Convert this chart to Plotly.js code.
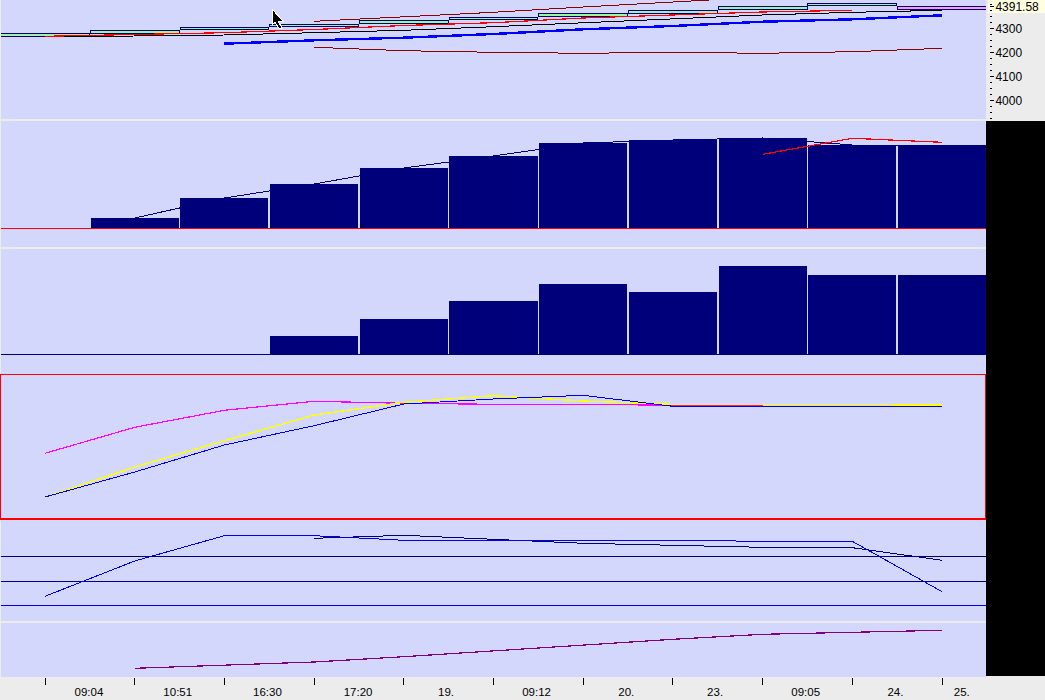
<!DOCTYPE html>
<html>
<head>
<meta charset="utf-8">
<script src="https://cdn.plot.ly/plotly-3.0.1.min.js"></script>
<style>
html,body{margin:0;padding:0;background:#ececec;overflow:hidden}
#chart{width:1045px;height:700px}
#chart path,#chart rect{shape-rendering:crispEdges}
</style>
</head>
<body>
<div id="chart"></div>
<script>
// Bar index
const bars = [0,1,2,3,4,5,6,7,8,9,10];

// Panel 1: price candles and overlays
const candleLow  = [4266,4277.5,4294,4306.5,4319,4335.5,4350,4364,4377.5,4394,4377.5];
const candleHigh = [4278,4293.5,4306,4318.5,4335,4347.5,4364.5,4377,4393.5,4406,4391.6];
const candleFill = ['#a6f0b0','#98fb98','#98fb98','#a0f0b8','#98fb98','#98fb98','#98fb98','#a0f0b8','#98fb98','#98fb98','#ff99ff'];
const priceRed   = [4267.5,4275.8,4282.5,4295.8,4312.5,4324.2,4343.8,4356.3,4368.8,4375.8,null];
const priceBlack = [4264.6,4268.8,4272.9,4282.5,4292.5,4307.5,4324.2,4339.6,4356.3,4367.5,4375.8];
const priceBlue  = [null,null,4236.7,4250.8,4261.7,4277.1,4296.7,4310.4,4328.3,4338.3,4355.0];
const upperBand  = [null,null,null,4330.0,4347.9,4367.5,4389.6,4411.7,4431.3,null,null];
const lowerBand  = [null,null,null,4221.7,4207.5,4200.8,4196.7,4200.8,4196.7,4203.3,4217.5];
const priceTicks = [4000,4100,4200,4300,4391.58];
const priceTickText = ['4000','4100','4200','4300','4391.58'];

// Panel 2
const volumeA     = [null,10.5,30.5,44.5,60.5,72.5,85.5,88.5,90.5,83.5,83.5];
const volumeALine = [null,10.5,30.5,44.5,60.5,72.5,85.5,88.5,90.5,83.5,83.5];
const volumeARed  = [null,null,null,null,null,null,null,null,74.2,90.2,86.2];

// Panel 3
const volumeB = [null,null,null,18.5,35.5,53.5,70.5,62.5,88.5,79.5,79.5];

// Panel 4
const oscMagenta = [65.7,91.7,108.7,117.7,115.7,114.7,114.7,113.7,113.7,null,null];
const oscYellow  = [21.7,52,78.3,104,116.7,123.3,118,114.7,114.7,114,114];
const oscBlue    = [22,47,74,93.3,115,120,123.7,112.7,112.7,112.7,112.7];

// Panel 5
const strengthBlue = [24.7,60,85.3,85.3,80.7,80.7,80.7,80.7,79.7,79.7,29.3];
const strengthNavy = [null,null,null,82.7,85.7,81.7,77.7,75.7,73.7,73.3,60.7];
const levelHigh = 64.7, levelMid = 39.7, levelLow = 15.7;

// Panel 6
const trendPurple = [null,8.7,11.7,15,20.3,26.3,32.3,37.7,42.7,44.7,46.7];

// Time axis
const timeLabels = ['09:04','10:51','16:30','17:20','19.','09:12','20.','23.','09:05','24.','25.'];
const timeLabelPos = [0.49,1.48,2.48,3.49,4.47,5.48,6.48,7.47,8.48,9.48,10.22];

const W = 1045, H = 700;
const xRange = [-0.4905, 10.49];
const dom = (top, bottom) => [1 - bottom / H, 1 - top / H];
const px = v => v / W, py = v => 1 - v / H;

const line = (y, color, width, axis) => ({
  type:'scatter', mode:'lines', x:bars, y:y, yaxis:axis, xaxis:'x',
  line:{color:color, width:width}, connectgaps:false, hoverinfo:'skip', showlegend:false
});
const level = (v, color, axis) => ({
  type:'scatter', mode:'lines', x:xRange, y:[v,v], yaxis:axis, xaxis:'x',
  line:{color:color, width:1}, hoverinfo:'skip', showlegend:false
});
const solidBars = (y, axis) => ({
  type:'bar', x:bars, y:y, width:0.982, yaxis:axis, xaxis:'x',
  marker:{color:'#00007b', line:{width:0}}, hoverinfo:'skip', showlegend:false
});

const traces = [
  {type:'bar', x:bars, y:candleHigh.map((h,i)=>h-candleLow[i]), base:candleLow, width:0.99, yaxis:'y', xaxis:'x',
   marker:{color:candleFill, line:{color:'#00006e', width:1}}, hoverinfo:'skip', showlegend:false},
  line(priceBlack,'#000000',1,'y'),
  line(priceRed,'#ff0000',1.2,'y'),
  line(upperBand,'#8b0000',1,'y'),
  line(lowerBand,'#8b0000',1,'y'),
  line(priceBlue,'#0000ff',2.4,'y'),

  solidBars(volumeA,'y2'),
  line(volumeALine,'#00007b',1,'y2'),
  line(volumeARed,'#ff0000',1.2,'y2'),
  level(0,'#ff0000','y2'),

  solidBars(volumeB,'y3'),
  level(0,'#00007b','y3'),

  line(oscMagenta,'#ff00ff',1.2,'y4'),
  line(oscYellow,'#ffff00',1.4,'y4'),
  line(oscBlue,'#0000e0',1,'y4'),

  level(levelHigh,'#00007b','y5'),
  level(levelMid,'#00007b','y5'),
  level(levelLow,'#0000e0','y5'),
  line(strengthNavy,'#00007b',1,'y5'),
  line(strengthBlue,'#0000e8',1,'y5'),

  line(trendPurple,'#800080',1.2,'y6')
];

const hiddenY = (top, bottom, range) => ({
  domain:dom(top,bottom), range:range, anchor:'x', visible:false, fixedrange:true
});

const cursor = [[272,9],[283,21],[278,21],[282,28],[279,29],[275,22],[272,25]]
  .map((p,i)=>(i?'L':'M')+px(p[0])+','+py(p[1])).join(' ')+' Z';

const layout = {
  width:W, height:H, margin:{l:0,r:0,t:0,b:0,pad:0},
  paper_bgcolor:'#ececec', plot_bgcolor:'#d3d7fc',
  barmode:'overlay', showlegend:false,
  font:{family:'"Liberation Sans",Arial,sans-serif', color:'#000000', size:12},
  xaxis:{
    domain:[1/W, 986/W], range:xRange, anchor:'y6', fixedrange:true, showgrid:false, zeroline:false, showline:false,
    tickmode:'array', tickvals:timeLabelPos, ticktext:timeLabels, ticks:'', ticklabelstandoff:6,
    ticklabeloverflow:'allow', tickfont:{size:11.5, color:'#000000'},
    minor:{tickmode:'array', tickvals:bars, ticks:'outside', ticklen:7, tickcolor:'#000000', tickwidth:1, showgrid:false}
  },
  yaxis:{
    domain:dom(0,119), range:[3922.9,4418.75], anchor:'free', position:989/W, side:'right', fixedrange:true,
    showgrid:false, zeroline:false, showline:false,
    tickmode:'array', tickvals:priceTicks, ticktext:priceTickText, ticks:'outside', ticklen:4, tickcolor:'#000000', tickwidth:1,
    ticklabeloverflow:'allow', ticklabelstandoff:-1, tickfont:{size:12, color:'#000000'},
    minor:{dtick:25, ticks:'outside', ticklen:2, tickcolor:'#000000', tickwidth:1, showgrid:false}
  },
  yaxis2:hiddenY(121,247,[-18.5,107.5]),
  yaxis3:hiddenY(249,374,[-19.5,105.5]),
  yaxis4:hiddenY(375,519,[0,144]),
  yaxis5:hiddenY(520,621,[0,101]),
  yaxis6:hiddenY(623,677,[0,54]),
  shapes:[
    {type:'rect', layer:'below', xref:'paper', yref:'paper', x0:px(988), x1:px(1045), y0:py(12.5), y1:py(0),
     fillcolor:'#ffffe0', line:{width:0}},
    {type:'rect', layer:'above', xref:'paper', yref:'paper', x0:px(0.5), x1:px(986), y0:py(519), y1:py(374.5),
     fillcolor:'rgba(0,0,0,0)', line:{color:'#ff0000', width:1.2}},
    {type:'rect', layer:'above', xref:'paper', yref:'paper', x0:px(986), x1:px(1045), y0:py(676), y1:py(121),
     fillcolor:'#000000', line:{width:0}},
    {type:'path', layer:'above', xref:'paper', yref:'paper', path:cursor,
     fillcolor:'#000000', line:{color:'#ffffff', width:1}}
  ]
};

Plotly.newPlot('chart', traces, layout, {staticPlot:true, displayModeBar:false});
</script>
</body>
</html>
